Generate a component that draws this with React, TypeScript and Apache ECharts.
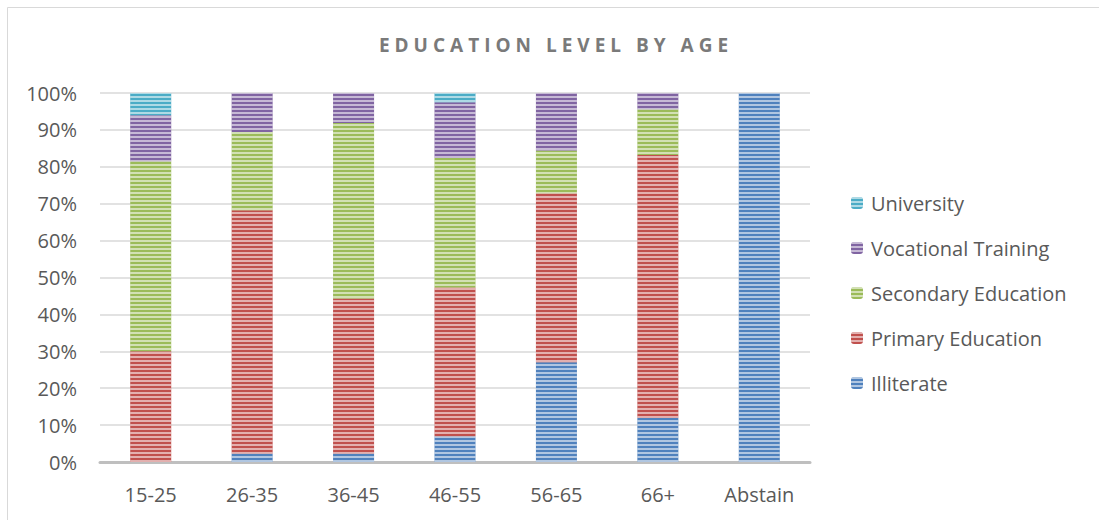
import React, { useEffect, useRef } from "react";
import * as echarts from "echarts";

const TITLE = "EDUCATION LEVEL BY AGE";
const categories = ["15-25", "26-35", "36-45", "46-55", "56-65", "66+", "Abstain"];
const seriesNames = ["Illiterate", "Primary Education", "Secondary Education", "Vocational Training", "University"];
const illiterate = [0, 2.3, 2.3, 7.0, 27.0, 12.0, 100];
const primary = [30.0, 65.9, 42.0, 40.3, 45.8, 71.2, 0];
const secondary = [51.5, 21.2, 47.6, 35.1, 11.6, 12.4, 0];
const vocational = [12.5, 10.6, 8.1, 15.1, 15.6, 4.4, 0];
const university = [6.0, 0, 0, 2.5, 0, 0, 0];
const yMin = 0;
const yMax = 100;
const yInterval = 10;

const colors = ["#4F81BD", "#C0504D", "#9BBB59", "#8064A2", "#4BACC6"];
const FONT = "'Open Sans', sans-serif";
const TEXT_COLOR = "#595959";

export default function App() {
  const ref = useRef<HTMLDivElement>(null);
  useEffect(() => {
    if (!ref.current) return;
    const chart = echarts.init(ref.current, undefined, { renderer: "svg" });
    const values = [illiterate, primary, secondary, vocational, university];
    const decal = {
      symbol: "rect",
      symbolSize: 1,
      dashArrayX: [1, 0],
      dashArrayY: [2, 2],
      rotation: 0,
      color: "rgba(255,255,255,0.55)",
    };
    chart.setOption({
      animation: false,
      backgroundColor: "#ffffff",
      textStyle: { fontFamily: FONT },
      graphic: [
        {
          type: "rect",
          shape: { x: 7.5, y: 7.5, width: 1300, height: 800 },
          style: { fill: "none", stroke: "#d9d9d9", lineWidth: 1 },
          silent: true,
        },
        {
          type: "text",
          x: 556,
          y: 45,
          style: {
            text: TITLE,
            fill: "#7a7a7a",
            font: `bold 19px ${FONT}`,
            textAlign: "center",
            textVerticalAlign: "middle",
          },
        },
      ],
      legend: {
        orient: "vertical",
        left: 846,
        top: 188,
        itemWidth: 12,
        itemHeight: 12,
        itemGap: 25,
        data: ["University", "Vocational Training", "Secondary Education", "Primary Education", "Illiterate"],
        textStyle: { color: TEXT_COLOR, fontSize: 20, fontFamily: FONT, lineHeight: 20, padding: [0, 0, 0, 3] },
      },
      grid: { left: 100, right: 289, top: 93, bottom: 58, containLabel: false },
      xAxis: {
        type: "category",
        data: categories,
        axisLine: { lineStyle: { color: "#bfbfbf", width: 3 } },
        axisTick: { show: false },
        axisLabel: { color: TEXT_COLOR, fontSize: 20, fontFamily: FONT, margin: 22 },
      },
      yAxis: {
        type: "value",
        min: yMin,
        max: yMax,
        interval: yInterval,
        axisLine: { show: false },
        axisTick: { show: false },
        axisLabel: { color: TEXT_COLOR, fontSize: 20, fontFamily: FONT, margin: 23, formatter: "{value}%" },
        splitLine: { lineStyle: { color: "#d9d9d9", width: 1.5 } },
      },
      series: seriesNames.map((name, i) => ({
        name,
        type: "bar",
        stack: "total",
        barWidth: 41,
        data: values[i],
        itemStyle: { color: colors[i], decal },
        emphasis: { disabled: true },
      })),
    });
    const texts = ref.current.querySelectorAll("text");
    texts.forEach((t) => {
      if (t.textContent === TITLE) {
        (t as SVGTextElement).style.letterSpacing = "5px";
      }
    });
    return () => chart.dispose();
  }, []);
  return (
    <div
      ref={ref}
      style={{ position: "fixed", left: 0, top: 0, width: 1099, height: 520 }}
    />
  );
}
